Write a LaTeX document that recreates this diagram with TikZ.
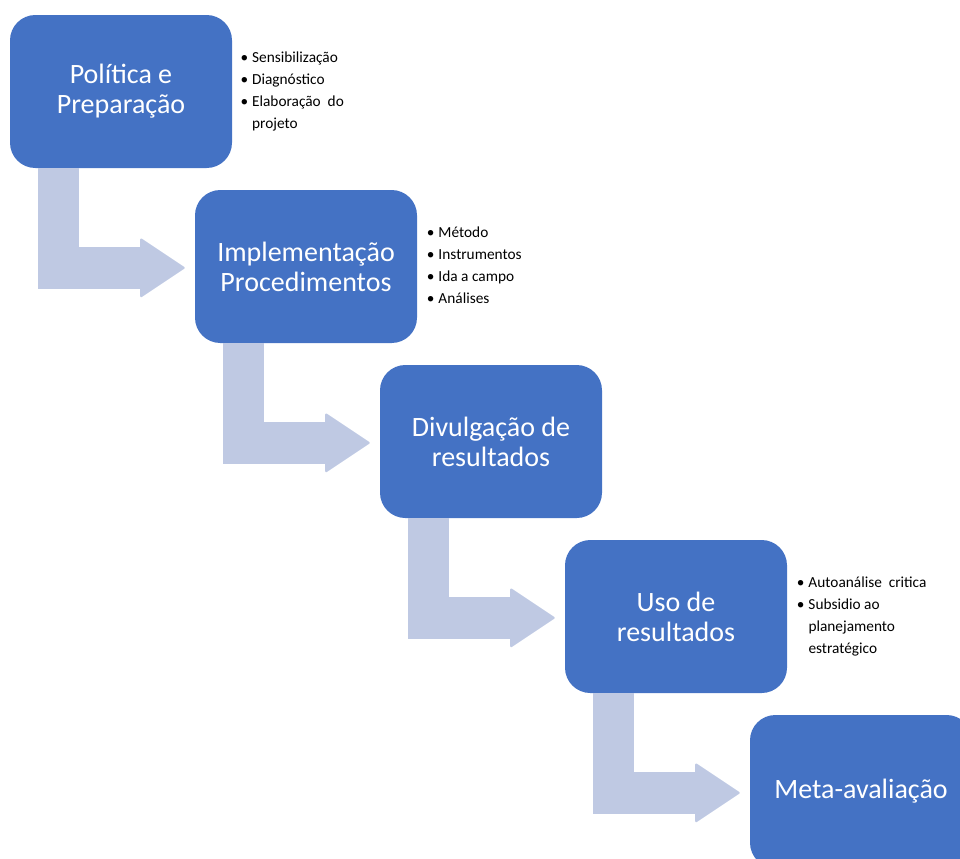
\documentclass[tikz,border=0pt]{standalone}
\usepackage{fontspec}
\setmainfont{Carlito}
\usepackage{tikz}
\usetikzlibrary{arrows.meta}

\definecolor{stageblue}{RGB}{68,114,196}
\definecolor{bendblue}{RGB}{191,201,227}

\newcommand{\notelist}[1]{{\fontsize{11.5}{16.5}\selectfont
  \begin{tabular}{@{}l@{\hspace{3pt}}l@{}}#1\end{tabular}}}

\begin{document}
\begin{tikzpicture}[x=0.75pt,y=-0.75pt,
    stage/.style={rectangle,rounded corners=19pt,fill=stageblue,text=white,
      minimum width=166.5pt,minimum height=114.75pt,inner sep=0pt,align=center,
      font=\fontsize{21}{22.5}\selectfont},
    notes/.style={anchor=west,inner sep=0pt,text=black},
    bendarrow/.style={draw=bendblue,line width=31pt,
      -{Triangle[width=45pt,length=34pt,line width=1.5pt,round]}}]
    \clip (0,0) rectangle (960,858);

    \node[stage] (p1) at (121,91.5) {Política e\\Preparação};
    \node[stage] (p2) at (306,266.5) {Implementação\\Procedimentos};
    \node[stage] (p3) at (491,441.5) {Divulgação de\\resultados};
    \node[stage] (p4) at (676,616.5) {Uso de\\resultados};
    \node[stage] (p5) at (861,791.5) {Meta-avaliação};

    \node[notes] (n1) at ([xshift=6pt]p1.east) {\notelist{%
      \textbullet & Sensibilização\\
      \textbullet & Diagnóstico\\
      \textbullet & Elaboração\ \ do\\
                  & projeto}};
    \node[notes] (n2) at ([xshift=7pt]p2.east) {\notelist{%
      \textbullet & Método\\
      \textbullet & Instrumentos\\
      \textbullet & Ida a campo\\
      \textbullet & Análises}};
    \node[notes] (n4) at ([xshift=7pt]p4.east) {\notelist{%
      \textbullet & Autoanálise\ \ critica\\
      \textbullet & Subsidio ao\\
                  & planejamento\\
                  & estratégico}};

    \draw[bendarrow] ([xshift=36.75pt]p1.south west) |- ([xshift=-7.5pt,yshift=-1pt]p2.west);
    \draw[bendarrow] ([xshift=36.75pt]p2.south west) |- ([xshift=-7.5pt,yshift=-1pt]p3.west);
    \draw[bendarrow] ([xshift=36.75pt]p3.south west) |- ([xshift=-7.5pt,yshift=-1pt]p4.west);
    \draw[bendarrow] ([xshift=36.75pt]p4.south west) |- ([xshift=-7.5pt,yshift=-1pt]p5.west);
  \end{tikzpicture}
\end{document}
